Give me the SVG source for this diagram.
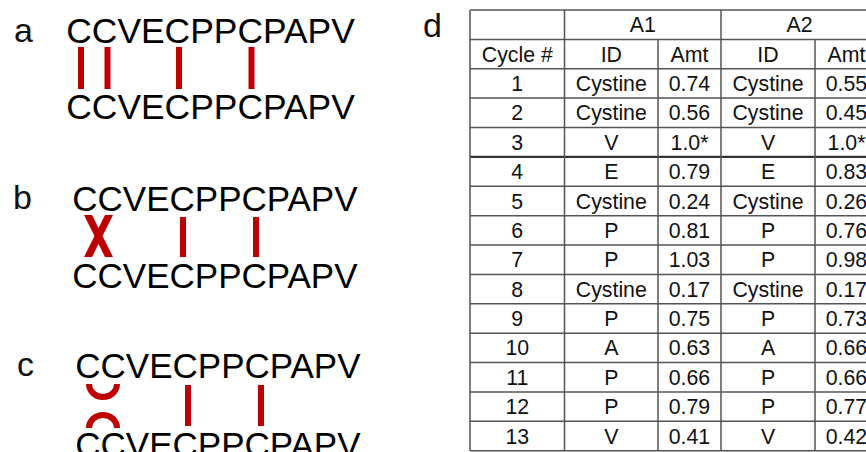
<svg xmlns="http://www.w3.org/2000/svg" width="866" height="452" viewBox="0 0 866 452">
<style>
.lbl{font-family:"Liberation Sans",Arial,sans-serif;font-size:34px;fill:#111}
.seq{font-family:"Liberation Sans",Arial,sans-serif;font-size:35px;fill:#000}
.bond{fill:none;stroke:#C00000;stroke-width:6}
.x{fill:#C00000}
.grid{stroke:#555;stroke-width:1.5;fill:none}
.t{font-family:"Liberation Sans",Arial,sans-serif;font-size:21.3px;fill:#111;text-anchor:middle}
</style>
<rect width="866" height="452" fill="#fff"/>

<g id="panel-a">
  <text class="lbl" x="14" y="42">a</text>
  <g id="a-top"><text class="seq" x="66.3" y="43" style="font-size:35.4px">CCVECPPCPAPV</text></g>
  <g id="a-bottom"><text class="seq" x="66.3" y="119" style="font-size:35.4px">CCVECPPCPAPV</text></g>
</g>
<g id="panel-b">
  <text class="lbl" x="13" y="209">b</text>
  <g id="b-top"><text class="seq" x="72.3" y="211">CCVECPPCPAPV</text></g>
  <g id="b-bottom"><text class="seq" x="72.3" y="288">CCVECPPCPAPV</text></g>
</g>
<g id="panel-c">
  <text class="lbl" x="17" y="376">c</text>
  <g id="c-top"><text class="seq" x="75.3" y="378">CCVECPPCPAPV</text></g>
  <g id="c-bottom"><text class="seq" x="75.3" y="457">CCVECPPCPAPV</text></g>
</g>

<g id="connectors">
  <line class="bond" x1="81" y1="47" x2="81" y2="89"/>
  <line class="bond" x1="107.5" y1="47" x2="107.5" y2="89"/>
  <line class="bond" x1="179" y1="47" x2="179" y2="89"/>
  <line class="bond" x1="251.5" y1="47" x2="251.5" y2="89"/>
  <polygon class="x" points="84,215 92,215 113,257 105,257"/>
  <polygon class="x" points="105,215 113,215 92,257 84,257"/>
  <line class="bond" x1="183" y1="217" x2="183" y2="257"/>
  <line class="bond" x1="256" y1="217" x2="256" y2="257"/>
  <path class="bond" d="M89,384 A14,13 0 0 0 117,384"/>
  <path class="bond" d="M89,428 A14,13 0 0 1 117,428"/>
  <line class="bond" x1="188" y1="385" x2="188" y2="426"/>
  <line class="bond" x1="261" y1="385" x2="261" y2="426"/>
</g>

<g id="panel-d">
  <text class="lbl" x="423" y="37">d</text>
  <g id="table-grid">
    <path class="grid" d="M470,10H878M470,39.4H878M470,68.8H878M470,98.1H878M470,127.5H878M470,186.3H878M470,215.7H878M470,245H878M470,274.4H878M470,303.8H878M470,333.2H878M470,362.6H878M470,392H878M470,421.3H878M470,450.7H878"/>
    <path class="grid" style="stroke-width:2.2;stroke:#333" d="M470,156.9H878"/>
    <path class="grid" d="M470,10V450.7M564.5,10V450.7M721,10V450.7M878,10V450.7M658,39.4V450.7M815,39.4V450.7"/>
  </g>
  <g id="table-text">
    <text class="t" x="642.8" y="32.2">A1</text>
    <text class="t" x="799.5" y="32.2">A2</text>
    <text class="t" x="517.3" y="61.6">Cycle #</text>
    <text class="t" x="611.3" y="61.6">ID</text>
    <text class="t" x="689.5" y="61.6">Amt</text>
    <text class="t" x="768" y="61.6">ID</text>
    <text class="t" x="846.5" y="61.6">Amt</text>

    <text class="t" x="517.3" y="91">1</text><text class="t" x="611.3" y="91">Cystine</text><text class="t" x="689.5" y="91">0.74</text><text class="t" x="768" y="91">Cystine</text><text class="t" x="846.5" y="91">0.55</text>
    <text class="t" x="517.3" y="120.3">2</text><text class="t" x="611.3" y="120.3">Cystine</text><text class="t" x="689.5" y="120.3">0.56</text><text class="t" x="768" y="120.3">Cystine</text><text class="t" x="846.5" y="120.3">0.45</text>
    <text class="t" x="517.3" y="149.7">3</text><text class="t" x="611.3" y="149.7">V</text><text class="t" x="689.5" y="149.7">1.0*</text><text class="t" x="768" y="149.7">V</text><text class="t" x="846.5" y="149.7">1.0*</text>
    <text class="t" x="517.3" y="179.1">4</text><text class="t" x="611.3" y="179.1">E</text><text class="t" x="689.5" y="179.1">0.79</text><text class="t" x="768" y="179.1">E</text><text class="t" x="846.5" y="179.1">0.83</text>
    <text class="t" x="517.3" y="208.5">5</text><text class="t" x="611.3" y="208.5">Cystine</text><text class="t" x="689.5" y="208.5">0.24</text><text class="t" x="768" y="208.5">Cystine</text><text class="t" x="846.5" y="208.5">0.26</text>
    <text class="t" x="517.3" y="237.9">6</text><text class="t" x="611.3" y="237.9">P</text><text class="t" x="689.5" y="237.9">0.81</text><text class="t" x="768" y="237.9">P</text><text class="t" x="846.5" y="237.9">0.76</text>
    <text class="t" x="517.3" y="267.2">7</text><text class="t" x="611.3" y="267.2">P</text><text class="t" x="689.5" y="267.2">1.03</text><text class="t" x="768" y="267.2">P</text><text class="t" x="846.5" y="267.2">0.98</text>
    <text class="t" x="517.3" y="296.6">8</text><text class="t" x="611.3" y="296.6">Cystine</text><text class="t" x="689.5" y="296.6">0.17</text><text class="t" x="768" y="296.6">Cystine</text><text class="t" x="846.5" y="296.6">0.17</text>
    <text class="t" x="517.3" y="326">9</text><text class="t" x="611.3" y="326">P</text><text class="t" x="689.5" y="326">0.75</text><text class="t" x="768" y="326">P</text><text class="t" x="846.5" y="326">0.73</text>
    <text class="t" x="517.3" y="355.4">10</text><text class="t" x="611.3" y="355.4">A</text><text class="t" x="689.5" y="355.4">0.63</text><text class="t" x="768" y="355.4">A</text><text class="t" x="846.5" y="355.4">0.66</text>
    <text class="t" x="517.3" y="384.8">11</text><text class="t" x="611.3" y="384.8">P</text><text class="t" x="689.5" y="384.8">0.66</text><text class="t" x="768" y="384.8">P</text><text class="t" x="846.5" y="384.8">0.66</text>
    <text class="t" x="517.3" y="414.1">12</text><text class="t" x="611.3" y="414.1">P</text><text class="t" x="689.5" y="414.1">0.79</text><text class="t" x="768" y="414.1">P</text><text class="t" x="846.5" y="414.1">0.77</text>
    <text class="t" x="517.3" y="443.5">13</text><text class="t" x="611.3" y="443.5">V</text><text class="t" x="689.5" y="443.5">0.41</text><text class="t" x="768" y="443.5">V</text><text class="t" x="846.5" y="443.5">0.42</text>
  </g>
</g>
</svg>
